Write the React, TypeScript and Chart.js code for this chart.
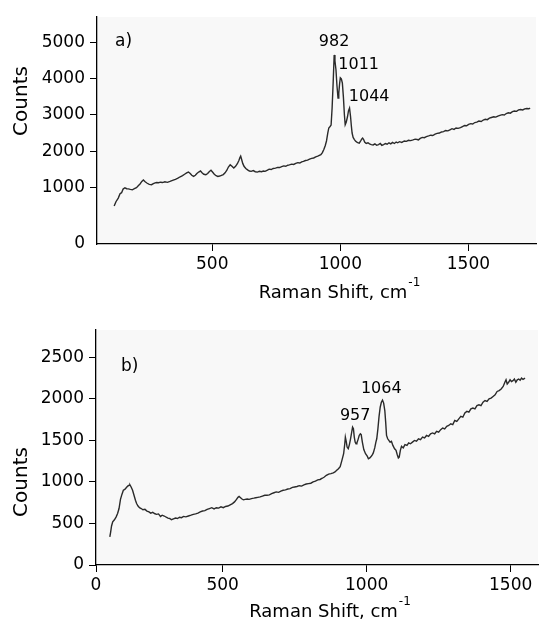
import React, { useEffect, useRef } from 'react';
import { Chart, registerables } from 'chart.js';

Chart.register(...registerables);

// ---------- Panel a) data ----------
const topShift = [
  117, 124, 133, 140, 146, 152, 159, 166, 172, 180, 188, 196, 204, 212, 218, 225, 231, 238, 246, 254,
  263, 270, 277, 283, 290, 298, 306, 315, 325, 335, 345, 356, 366, 375, 384, 392, 400, 407, 414, 420,
  427, 434, 440, 447, 454, 460, 467, 475, 482, 488, 495, 501, 508, 515, 522, 529, 536, 543, 550, 557,
  563, 570, 577, 584, 591, 598, 604, 608, 611, 615, 619, 624, 631, 638, 645, 652, 660, 668, 676, 684,
  692, 700, 706, 714, 722, 730, 738, 747, 755, 763, 771, 779, 787, 795, 801, 810, 818, 826, 834, 842,
  849, 856, 864, 872, 880, 888, 896, 904, 912, 918, 924, 930, 936, 941, 946, 951, 955, 960, 964, 968,
  972, 976, 979, 983, 987, 991, 994, 997, 1000, 1004, 1008, 1012, 1016, 1019, 1023, 1028, 1032, 1036, 1040, 1043,
  1046, 1050, 1055, 1060, 1066, 1070, 1074, 1080, 1084, 1087, 1091, 1095, 1101, 1108, 1114, 1121, 1128, 1135, 1142, 1149,
  1156, 1162, 1169, 1176, 1183, 1190, 1197, 1204, 1211, 1218, 1224, 1231, 1240, 1250, 1258, 1266, 1275, 1284, 1292, 1300,
  1305, 1312, 1320, 1328, 1336, 1345, 1353, 1361, 1370, 1378, 1387, 1395, 1403, 1411, 1420, 1428, 1436, 1444, 1452, 1460,
  1469, 1477, 1485, 1493, 1501, 1509, 1517, 1525, 1533, 1541, 1550, 1558, 1566, 1574, 1582, 1590, 1599, 1607, 1615, 1623,
  1632, 1640, 1648, 1656, 1664, 1672, 1680, 1688, 1696, 1704, 1712, 1720, 1728, 1736, 1741,
];
const topCounts = [
  480, 600, 700, 820, 850, 950, 985, 960, 955, 940, 930, 960, 990, 1050, 1090, 1160, 1200, 1150, 1110, 1080,
  1070, 1100, 1120, 1130, 1125, 1140, 1130, 1150, 1135, 1160, 1190, 1220, 1250, 1290, 1320, 1360, 1395, 1420, 1380, 1330,
  1300, 1330, 1380, 1420, 1450, 1400, 1360, 1345, 1380, 1430, 1470, 1420, 1360, 1320, 1300, 1310, 1330, 1350, 1400, 1470,
  1560, 1620, 1580, 1530, 1580, 1650, 1740, 1820, 1860, 1760, 1660, 1580, 1520, 1480, 1450, 1440, 1460, 1430, 1420, 1440,
  1430, 1450, 1440, 1470, 1500, 1490, 1520, 1530, 1550, 1545, 1570, 1590, 1580, 1610, 1620, 1640, 1630, 1660, 1680, 1670,
  1700, 1715, 1740, 1750, 1780, 1800, 1810, 1840, 1860, 1880, 1900, 1960, 2050, 2150, 2280, 2500, 2640, 2680, 2720, 3200,
  3880, 4660, 4500, 4250, 3800, 3470, 3600, 3850, 4030, 4000, 3880, 3500, 3000, 2730, 2800, 2950, 3120, 3190, 2950, 2700,
  2500, 2380, 2320, 2270, 2240, 2230, 2220, 2290, 2340, 2360, 2320, 2250, 2210, 2230, 2200, 2180, 2170, 2200, 2160, 2180,
  2210, 2160, 2180, 2210, 2190, 2230, 2200, 2240, 2210, 2250, 2230, 2260, 2240, 2280, 2270, 2300, 2290, 2310, 2330, 2320,
  2310, 2350, 2380, 2370, 2400, 2420, 2440, 2430, 2470, 2490, 2500, 2530, 2540, 2570, 2560, 2590, 2620, 2600, 2640, 2630,
  2650, 2680, 2710, 2700, 2740, 2760, 2750, 2790, 2800, 2830, 2820, 2860, 2880, 2870, 2910, 2930, 2950, 2940, 2970, 2990,
  3010, 3000, 3040, 3060, 3050, 3090, 3110, 3100, 3140, 3150, 3140, 3170, 3180, 3170, 3190,
];
const topXTicks = [500, 1000, 1500];
const topYTicks = [1000, 2000, 3000, 4000, 5000];
const topXRange = [50, 1764];
const topYRange = [-570, 5710]; // the axis origin is labelled "0" in the reference
const topPeakLabels = ['982', '1011', '1044'];
const topPeakShift = [916, 992, 1033];
const topPeakCounts = [4895, 4278, 3373];

// ---------- Panel b) data ----------
const bottomShift = [
  108, 111, 114, 118, 124, 130, 135, 140, 145, 150, 155, 160, 165, 170, 175, 178, 182, 187, 192, 197,
  201, 206, 211, 217, 223, 230, 237, 244, 250, 257, 263, 270, 277, 284, 290, 297, 304, 310, 316, 322,
  329, 336, 343, 350, 357, 364, 372, 381, 390, 398, 406, 414, 422, 430, 438, 446, 454, 462, 470, 478,
  486, 494, 502, 510, 518, 526, 534, 541, 548, 553, 557, 562, 567, 572, 578, 585, 592, 600, 608, 615,
  622, 630, 638, 646, 654, 662, 670, 678, 686, 694, 702, 710, 718, 726, 734, 742, 750, 758, 766, 774,
  782, 790, 798, 806, 814, 822, 830, 838, 846, 853, 860, 868, 876, 884, 890, 896, 902, 908, 914, 920,
  924, 926, 929, 932, 936, 940, 944, 948, 951, 954, 957, 960, 963, 966, 970, 974, 978, 981, 985, 990,
  996, 1002, 1006, 1011, 1016, 1020, 1023, 1028, 1032, 1035, 1039, 1043, 1047, 1051, 1055, 1059, 1063, 1066, 1069, 1073,
  1077, 1081, 1086, 1091, 1097, 1102, 1106, 1110, 1113, 1117, 1121, 1127, 1133, 1140, 1146, 1152, 1159, 1166, 1173, 1180,
  1187, 1194, 1201, 1208, 1215, 1222, 1229, 1236, 1243, 1250, 1257, 1264, 1271, 1278, 1285, 1292, 1299, 1306, 1313, 1320,
  1327, 1334, 1341, 1348, 1355, 1362, 1369, 1376, 1383, 1390, 1397, 1404, 1411, 1418, 1425, 1432, 1439, 1446, 1453, 1460,
  1467, 1474, 1480, 1484, 1488, 1493, 1498, 1503, 1508, 1513, 1518, 1523, 1528, 1533, 1538, 1543, 1550,
];
const bottomCounts = [
  340, 400, 470, 520, 545, 580, 620, 680, 790, 850, 900, 910, 930, 950, 960, 965, 940, 900, 840, 780,
  740, 710, 690, 680, 665, 670, 650, 640, 625, 635, 620, 610, 615, 585, 600, 590, 575, 565, 560, 545,
  555, 565, 560, 575, 570, 585, 580, 590, 600, 610, 615, 625, 640, 650, 655, 670, 680, 690, 675, 690,
  685, 700, 690, 705, 710, 725, 740, 760, 790, 815, 825, 810, 795, 785, 790, 795, 790, 800, 805, 810,
  815, 820, 830, 840, 840, 845, 860, 870, 880, 875, 890, 900, 905, 915, 920, 935, 940, 945, 955, 950,
  965, 975, 980, 985, 1000, 1010, 1025, 1030, 1045, 1060, 1080, 1095, 1100, 1110, 1120, 1140, 1160, 1185, 1260, 1340,
  1460, 1540, 1490, 1420, 1400, 1450, 1520, 1600, 1660, 1640, 1540, 1480, 1460, 1470, 1510, 1560, 1580, 1570, 1480, 1390,
  1340, 1310, 1280, 1290, 1310, 1330, 1350, 1410, 1480, 1520, 1640, 1790, 1900, 1960, 1985, 1950, 1860, 1720, 1560, 1520,
  1500, 1480, 1490, 1440, 1400, 1380, 1330, 1290, 1300, 1380, 1430, 1410, 1450, 1440, 1470, 1460, 1480, 1500, 1490, 1520,
  1510, 1540, 1530, 1560, 1550, 1580, 1590, 1580, 1610, 1600, 1630, 1650, 1640, 1670, 1680, 1700, 1690, 1740, 1730, 1760,
  1790, 1780, 1830, 1850, 1840, 1880, 1890, 1880, 1920, 1930, 1920, 1960, 1980, 1970, 2000, 2010, 2030, 2050, 2090, 2100,
  2120, 2150, 2200, 2230, 2180, 2200, 2230, 2210, 2220, 2240, 2200, 2230, 2240, 2225, 2250, 2235, 2250,
];
const bottomXTicks = [60, 500, 1000, 1500]; // first tick is the axis origin, labelled "0"
const bottomYTicks = [0, 500, 1000, 1500, 2000, 2500];
const bottomXRange = [60, 1595];
const bottomYRange = [0, 2830];
const bottomPeakLabels = ['1064', '957'];
const bottomPeakShift = [980, 907];
const bottomPeakCounts = [2070, 1745];

const FONT = "'DejaVu Sans', 'Liberation Sans', Arial, sans-serif";

type Panel = {
  shift: number[];
  counts: number[];
  xTicks: number[];
  yTicks: number[];
  xRange: number[];
  yRange: number[];
  xZeroAt: number | null;
  yZeroAt: number | null;
  peakLabels: string[];
  peakShift: number[];
  peakCounts: number[];
  panelLabel: string;
  // layout (pixels)
  height: number;
  areaLeft: number;
  areaRight: number;
  areaTop: number;
  areaBottom: number;
  labelDx: number;
  labelDy: number;
  yTitleY: number;
  xTitleDx: number;
  xTitleDy: number;
  showYOriginTick: boolean;
};

function buildChart(canvas: HTMLCanvasElement, p: Panel, width: number) {
  const textPlugin = {
    id: 'panelText',
    beforeDraw(chart: any) {
      const { ctx, chartArea } = chart;
      ctx.save();
      ctx.fillStyle = '#f8f8f8';
      ctx.fillRect(chartArea.left, chartArea.top, chartArea.right - chartArea.left, chartArea.bottom - chartArea.top);
      ctx.restore();
    },
    afterDraw(chart: any) {
      const { ctx, chartArea, scales } = chart;
      ctx.save();
      ctx.fillStyle = '#000';
      // x title with superscript
      const main = 'Raman Shift, cm';
      const sup = '-1';
      ctx.font = `18px ${FONT}`;
      const w1 = ctx.measureText(main).width;
      ctx.font = `12px ${FONT}`;
      const w2 = ctx.measureText(sup).width;
      const cx = (chartArea.left + chartArea.right) / 2 + p.xTitleDx;
      const base = chartArea.bottom + p.xTitleDy;
      const x0 = cx - (w1 + w2 + 1) / 2;
      ctx.textAlign = 'left';
      ctx.textBaseline = 'alphabetic';
      ctx.font = `18px ${FONT}`;
      ctx.fillText(main, x0, base);
      ctx.font = `12px ${FONT}`;
      ctx.fillText(sup, x0 + w1 + 1, base - 12);
      // y title
      ctx.save();
      ctx.translate(27, p.yTitleY);
      ctx.rotate(-Math.PI / 2);
      ctx.font = `20px ${FONT}`;
      ctx.textAlign = 'center';
      ctx.fillText('Counts', 0, 0);
      ctx.restore();
      // panel label
      ctx.font = `17px ${FONT}`;
      ctx.textAlign = 'left';
      ctx.fillText(p.panelLabel, chartArea.left + p.labelDx, chartArea.top + p.labelDy);
      // peak labels
      ctx.font = `16px ${FONT}`;
      p.peakLabels.forEach((t, i) => {
        const px = scales.x.getPixelForValue(p.peakShift[i]);
        const py = scales.y.getPixelForValue(p.peakCounts[i]);
        ctx.fillText(t, px, py);
      });
      ctx.restore();
    },
  };

  const tickFont = { family: FONT, size: 17 };

  return new Chart(canvas, {
    type: 'line',
    data: {
      datasets: [
        {
          data: p.shift.map((x, i) => ({ x, y: p.counts[i] })),
          borderColor: '#2a2a2a',
          borderWidth: 1.4,
          pointRadius: 0,
          tension: 0,
          fill: false,
        },
      ],
    },
    options: {
      animation: false,
      responsive: false,
      devicePixelRatio: 1,
      events: [],
      layout: {
        padding: { left: 0, right: width - p.areaRight, top: p.areaTop, bottom: 0 },
      },
      plugins: { legend: { display: false }, tooltip: { enabled: false }, title: { display: false } },
      scales: {
        x: {
          type: 'linear',
          min: p.xRange[0],
          max: p.xRange[1],
          afterBuildTicks: (s: any) => {
            s.ticks = p.xTicks.map((v) => ({ value: v }));
          },
          afterFit: (s: any) => {
            s.height = p.height - p.areaBottom;
            s.paddingLeft = 0;
            s.paddingRight = 0;
          },
          ticks: {
            autoSkip: false,
            maxRotation: 0,
            minRotation: 0,
            padding: 3,
            color: '#000',
            font: tickFont,
            callback: (v: any) => (p.xZeroAt !== null && v === p.xZeroAt ? '0' : String(v)),
          },
          grid: {
            display: true,
            drawOnChartArea: false,
            drawTicks: true,
            tickLength: 7,
            color: '#000',
            tickColor: '#000',
            tickWidth: 1,
          },
          border: { display: true, color: '#000', width: 1.3 },
        },
        y: {
          type: 'linear',
          min: p.yRange[0],
          max: p.yRange[1],
          afterBuildTicks: (s: any) => {
            const t = p.yTicks.map((v) => ({ value: v }));
            if (p.yZeroAt !== null) t.unshift({ value: p.yZeroAt });
            s.ticks = t;
          },
          afterFit: (s: any) => {
            s.width = p.areaLeft;
            s.paddingTop = 0;
            s.paddingBottom = 0;
          },
          ticks: {
            autoSkip: false,
            padding: 5,
            color: '#000',
            font: tickFont,
            callback: (v: any) => (p.yZeroAt !== null && v === p.yZeroAt ? '0' : String(v)),
          },
          grid: {
            display: true,
            drawOnChartArea: false,
            drawTicks: true,
            tickLength: 7,
            color: '#000',
            tickColor: (c: any) =>
              !p.showYOriginTick && c.tick && c.tick.value === p.yRange[0] ? 'rgba(0,0,0,0)' : '#000',
            tickWidth: 1,
          },
          border: { display: true, color: '#000', width: 1.3 },
        },
      },
    },
    plugins: [textPlugin],
  } as any);
}

const W = 547;

const panelA: Panel = {
  shift: topShift,
  counts: topCounts,
  xTicks: topXTicks,
  yTicks: topYTicks,
  xRange: topXRange,
  yRange: topYRange,
  xZeroAt: null,
  yZeroAt: topYRange[0],
  peakLabels: topPeakLabels,
  peakShift: topPeakShift,
  peakCounts: topPeakCounts,
  panelLabel: 'a)',
  height: 310,
  areaLeft: 97,
  areaRight: 536,
  areaTop: 17,
  areaBottom: 244,
  labelDx: 18,
  labelDy: 29,
  yTitleY: 101,
  xTitleDx: 23,
  xTitleDy: 54,
  showYOriginTick: false,
};

const panelB: Panel = {
  shift: bottomShift,
  counts: bottomCounts,
  xTicks: bottomXTicks,
  yTicks: bottomYTicks,
  xRange: bottomXRange,
  yRange: bottomYRange,
  xZeroAt: bottomXTicks[0],
  yZeroAt: null,
  peakLabels: bottomPeakLabels,
  peakShift: bottomPeakShift,
  peakCounts: bottomPeakCounts,
  panelLabel: 'b)',
  height: 316,
  areaLeft: 96,
  areaRight: 538,
  areaTop: 20,
  areaBottom: 255,
  labelDx: 25,
  labelDy: 41,
  yTitleY: 172,
  xTitleDx: 13,
  xTitleDy: 52,
  showYOriginTick: true,
};

export default function App() {
  const refA = useRef<HTMLCanvasElement | null>(null);
  const refB = useRef<HTMLCanvasElement | null>(null);

  useEffect(() => {
    const a = refA.current ? buildChart(refA.current, panelA, W) : null;
    const b = refB.current ? buildChart(refB.current, panelB, W) : null;
    return () => {
      if (a) a.destroy();
      if (b) b.destroy();
    };
  }, []);

  return (
    <div style={{ position: 'absolute', left: 0, top: 0, width: W, height: 626, background: '#fff' }}>
      <canvas
        ref={refA}
        width={W}
        height={panelA.height}
        style={{ position: 'absolute', left: 0, top: 0, width: W, height: panelA.height, display: 'block' }}
      />
      <canvas
        ref={refB}
        width={W}
        height={panelB.height}
        style={{ position: 'absolute', left: 0, top: 310, width: W, height: panelB.height, display: 'block' }}
      />
    </div>
  );
}
